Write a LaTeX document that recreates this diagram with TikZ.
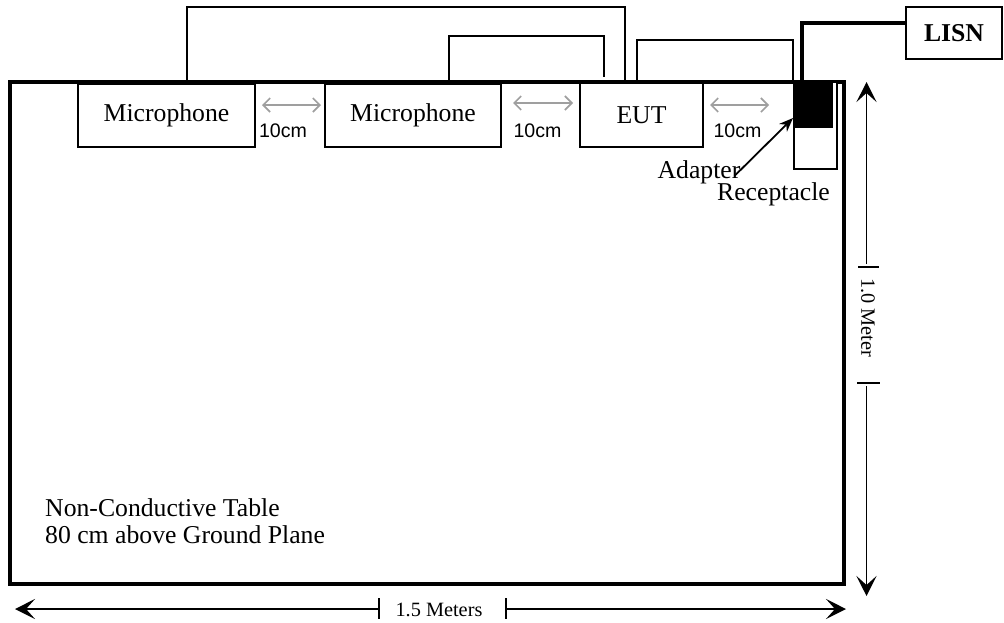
\documentclass[tikz,border=0pt]{standalone}
\usepackage{fontspec}
\setmainfont{Liberation Serif}
\setsansfont{Liberation Sans}
\usetikzlibrary{arrows.meta,calc}
\begin{document}
\begin{tikzpicture}[x=1pt,y=-1pt,
  big/.style={font=\fontsize{25.7}{30}\selectfont},
  box/.style={draw,line width=1.6pt,inner sep=0pt,outer sep=0pt,big},
  wire/.style={line width=1.8pt},
  powerwire/.style={line width=3.4pt},
  gaparrow/.style={draw=gray!75,line width=1.6pt,{Straight Barb[length=7pt,width=14pt]}-{Straight Barb[length=7pt,width=14pt]}},
  gaplabel/.style={anchor=base,inner sep=0pt,font=\sffamily\fontsize{19.6}{22}\selectfont},
  dimline/.style={line width=1.8pt,-{Stealth[length=20pt,width=20pt,inset=9pt]}},
  dimtick/.style={line width=1.4pt},
  dimlabel/.style={inner sep=0pt,font=\fontsize{20.3}{24}\selectfont},
  label/.style={inner sep=0pt,big}]
\useasboundingbox (0,0) rectangle (1004,622);
% table
\node[draw,line width=3.2pt,inner sep=0pt,outer sep=0pt,minimum width=834pt,minimum height=502pt] (table) at (427,333) {};
% receptacle and adapter
\node[box,fill=white,minimum width=43pt,minimum height=87pt] (recept) at (815.5,125.5) {};
\node[box,fill=black,minimum width=38pt,minimum height=45pt] (adapter) at (813,104.5) {};
% devices
\node[box,minimum width=177pt,minimum height=63pt] (mic1) at (166.5,115.5) {Microphone};
\node[box,minimum width=176pt,minimum height=63pt] (mic2) at (413,115.5) {Microphone};
\node[box,minimum width=123pt,minimum height=64pt] (eut) at (641.5,115) {EUT};
\node[box,minimum width=96pt,minimum height=52pt,font=\fontsize{25.7}{30}\selectfont\bfseries] (lisn) at (954,33) {LISN};
% cables
\draw[wire] ($(mic1.north west)+(109,0)$) |- ($(eut.north west)+(45,-76)$) -- ($(eut.north west)+(45,0)$);
\draw[wire] ($(mic2.north west)+(124,-2)$) |- ($(eut.north west)+(24,-47)$) -- ($(eut.north west)+(24,-6)$);
\draw[wire] ($(eut.north west)+(57,0)$) |- ($(adapter.north west)+(-1,-42)$) -- ($(adapter.north west)+(-1,0)$);
\draw[powerwire] ($(adapter.north west)+(8,-2)$) |- ($(lisn.north west)+(0,16)$);
% 10 cm spacings
\draw[gaparrow] ($(mic1.east)+(7,-10.5)$) -- ($(mic2.west)+(-4,-10.5)$);
\draw[gaparrow] ($(mic2.east)+(12,-12.5)$) -- ($(eut.west)+(-7,-12)$);
\draw[gaparrow] ($(eut.east)+(7,-10)$) -- ($(recept.west)+(-25,-20.5)$);
\node[gaplabel] (g1) at (283,137) {10cm};
\node[gaplabel] (g2) at (537.5,137) {10cm};
\node[gaplabel] (g3) at (737.5,137) {10cm};
% adapter / receptacle labels
\node[label,anchor=base] (adlbl) at (699,178) {Adapter};
\node[label,anchor=base] (rclbl) at (773.5,200) {Receptacle};
\draw[line width=1.8pt,-{Stealth[length=14pt,width=11pt]}] ($(adlbl.east)+(-6,4)$) -- ($(adapter.south west)+(-1,-9)$);
% table text
\node[label,anchor=base west] (t1) at (45,516) {Non-Conductive Table};
\node[label,anchor=base west] (t2) at (45,543) {80 cm above Ground Plane};
% vertical dimension
\coordinate (vtop) at (866.5,82);
\coordinate (vbot) at (866.5,596);
\node[dimlabel,rotate=-90] (vlbl) at (868,317.5) {1.0 Meter};
\draw[dimline] (866.5,264) -- (vtop);
\draw[dimline] (866.5,386) -- (vbot);
\draw[dimtick] (858,267) -- (879,267);
\draw[dimtick] (857,383) -- (880,383);
% horizontal dimension
\coordinate (hleft) at (15,609);
\coordinate (hright) at (846,609);
\node[dimlabel,anchor=base] (hlbl) at (439,616) {1.5 Meters};
\draw[dimline] (379,609) -- (hleft);
\draw[dimline] (506,609) -- (hright);
\draw[dimtick] (379,598) -- (379,619);
\draw[dimtick] (506,598) -- (506,619);
\end{tikzpicture}
\end{document}
